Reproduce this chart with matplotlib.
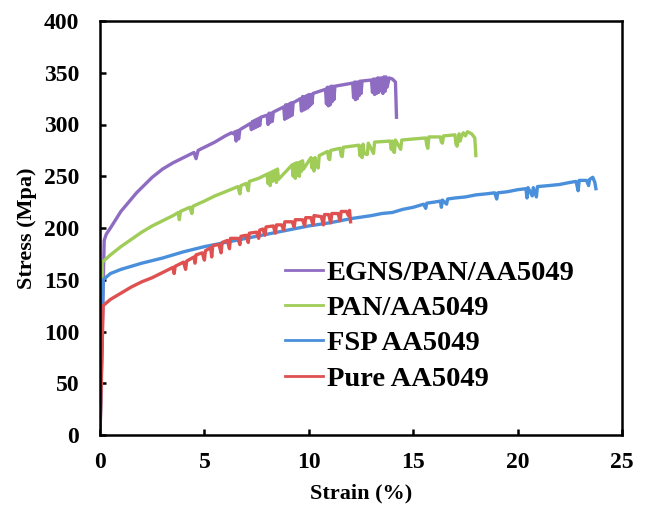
import matplotlib
matplotlib.use("Agg")
import matplotlib.pyplot as plt

# Stress-strain data (strain in %, stress in MPa)
egns_strain = [0, 0.1, 0.2, 0.3, 0.5, 0.75, 1.0, 1.25, 1.5, 1.75, 2.0, 2.25, 2.5, 2.75, 3.0,
               3.25, 3.5, 4.0, 4.5, 4.6, 4.7, 5.0, 5.5,
               6.0, 6.3,
               6.4, 6.46, 6.52, 6.58, 6.64, 6.7,
               7.2, 7.25, 7.3, 7.35, 7.4, 7.45, 7.5, 7.55, 7.6, 7.65, 7.7,
               8.0, 8.05, 8.1, 8.15, 8.2, 8.25, 8.3,
               8.8, 8.845, 8.89, 8.935, 8.98, 9.025, 9.07, 9.115, 9.16, 9.205, 9.25,
               9.6, 9.65, 9.7, 9.75, 9.8, 9.85, 9.9, 9.95, 10.0, 10.05, 10.1, 10.15, 10.2,
               10.8, 10.845, 10.89, 10.935, 10.98, 11.025, 11.07, 11.115, 11.16, 11.205, 11.25,
               12.1, 12.145, 12.19, 12.235, 12.28, 12.325, 12.37, 12.415, 12.46, 12.505, 12.55,
               13.0, 13.05, 13.1, 13.15, 13.2, 13.25, 13.3, 13.35, 13.4, 13.45, 13.5, 13.55,
               13.6, 13.65, 13.7, 13.75, 13.85,
               14.0, 14.15, 14.2]
egns_stress = [0, 95, 188, 194, 200, 208, 216, 222, 228, 234, 239, 244, 249, 253, 257,
               260, 263, 268, 273, 267, 275, 278, 283,
               289, 292,
               291, 293, 284, 294, 286, 295,
               301, 295, 303, 296, 304, 297, 305, 298, 306, 299, 307,
               309, 300, 311, 302, 311, 303, 312,
               317, 305, 319, 306, 319, 307, 320, 308, 321, 309, 321,
               325, 313, 327, 314, 327, 315, 328, 316, 329, 318, 329, 320, 330,
               334, 320, 336, 318, 336, 319, 337, 322, 337, 324, 337,
               340, 326, 341, 324, 341, 325, 341, 328, 342, 330, 342,
               343, 331, 344, 329, 344, 330, 345, 331, 345, 333, 345, 330,
               346, 332, 346, 336, 345,
               344, 341, 307]

pan_strain = [0, 0.06, 0.11, 0.5, 1.0, 1.5, 2.0, 2.5, 3.0, 3.5, 3.75, 3.8, 3.85, 4.3, 4.4, 4.45,
              5.0, 5.5, 6.0, 6.6, 6.7, 6.75, 7.0, 7.1, 7.15, 7.6,
              8.0, 8.05, 8.1, 8.15, 8.2, 8.25, 8.3, 8.35, 8.4, 8.45, 8.5, 8.55,
              9.2, 9.25, 9.3, 9.35, 9.4, 9.45, 9.5, 9.55, 9.6, 9.65, 9.7, 9.75,
              10.1, 10.15, 10.2, 10.25, 10.3, 10.35, 10.45, 10.5,
              10.9, 10.95, 11.0, 11.05, 11.5, 11.55, 11.6, 11.65,
              12.4, 12.45, 12.5, 12.55, 12.6, 12.65, 12.8, 12.85, 13.1, 13.15,
              13.9, 13.95, 14.0, 14.05, 14.1, 14.15, 14.4, 14.45, 15.0,
              15.6, 15.65, 15.7, 15.75, 16.3, 16.35, 16.4, 16.45,
              17.0, 17.05, 17.1, 17.2, 17.25, 17.3, 17.4, 17.5, 17.6, 17.8, 17.95, 18.0]
pan_stress = [0, 85, 167, 174, 182, 189, 196, 202, 207, 212, 215, 208, 216, 220, 214, 221,
              226, 231, 235, 240, 233, 241, 243, 236, 245, 248,
              252, 243, 253, 241, 254, 245, 255, 246, 256, 244, 257, 247,
              261, 250, 262, 248, 263, 251, 263, 250, 264, 255, 265, 257,
              268, 258, 267, 255, 268, 260, 258, 270,
              274, 267, 266, 275, 277, 270, 269, 278,
              280, 270, 279, 268, 281, 272, 271, 282, 272, 283,
              284, 276, 284, 274, 273, 285, 276, 285, 286,
              287, 280, 277, 288, 288, 283, 282, 289,
              290, 281, 279, 291, 284, 288, 292, 289, 293, 291, 287, 270]

fsp_strain = [0, 0.08, 0.15, 0.5, 1.0, 2.0, 3.0, 4.0, 5.0, 6.0, 7.0, 8.0, 9.0, 10.0, 11.0,
              12.0, 13.0, 13.5, 14.0, 14.5, 15.0, 15.5, 15.6, 15.65, 16.0, 16.3, 16.35, 16.4,
              16.6, 16.65, 17.0, 17.5, 18.0, 18.5, 18.9, 19.0, 19.05, 19.5, 20.0, 20.4, 20.45,
              20.5, 20.7, 20.75, 20.9, 20.95, 21.5, 22.0, 22.5, 22.8, 22.9, 22.95, 23.3, 23.4,
              23.45, 23.6, 23.7, 23.75]
fsp_stress = [0, 75, 150, 156, 160, 166, 171, 177, 182, 186, 190, 194, 198, 202, 205,
              209, 212, 214, 215, 218, 220, 223, 219, 224, 225, 226, 220, 227,
              223, 228, 229, 230, 232, 233, 234, 228, 234, 235, 237, 238, 229,
              239, 231, 239, 230, 240, 241, 242, 244, 245, 236, 246, 246, 241,
              247, 249, 244, 238]

pure_strain = [0, 0.08, 0.15, 0.5, 1.0, 1.5, 2.0, 2.5, 3.0, 3.5, 3.55, 3.6, 4.0, 4.1, 4.15,
               4.5, 4.55, 4.6, 4.9, 5.0, 5.05, 5.3, 5.35, 5.4, 5.7, 5.8, 5.85, 6.1, 6.2, 6.25,
               6.6, 6.7, 6.75, 7.0, 7.1, 7.15, 7.5, 7.6, 7.65, 7.8, 7.9, 7.95, 8.3, 8.4, 8.45,
               8.7, 8.8, 8.85, 9.2, 9.3, 9.35, 9.7, 9.8, 9.85, 10.1, 10.2, 10.25, 10.6, 10.7,
               10.75, 10.95, 11.05, 11.1, 11.4, 11.5, 11.55, 11.8, 11.9, 11.95, 12.0]
pure_stress = [0, 65, 125, 131, 137, 143, 148, 152, 157, 162, 156, 163, 167, 160, 168,
               172, 166, 174, 176, 169, 178, 181, 172, 183, 184, 176, 186, 188, 180, 190,
               190, 184, 192, 193, 186, 195, 196, 190, 198, 199, 193, 201, 202, 195, 203,
               203, 198, 206, 206, 201, 208, 208, 202, 210, 210, 203, 212, 211, 203,
               213, 213, 205, 214, 214, 207, 216, 216, 212, 217, 206]

labels = ["EGNS/PAN/AA5049", "PAN/AA5049", "FSP AA5049", "Pure AA5049"]
colors = ["#8E6CC2", "#A0CC58", "#4A8FDB", "#DF5050"]

plt.rcParams["font.family"] = ["Liberation Serif", "DejaVu Serif"]
plt.rcParams["font.weight"] = "bold"

fig = plt.figure(figsize=(6.48, 5.07), dpi=100)
ax = fig.add_axes([100 / 648, 1 - 435 / 507, 522 / 648, 414 / 507])

series = [(egns_strain, egns_stress), (pan_strain, pan_stress),
          (fsp_strain, fsp_stress), (pure_strain, pure_stress)]
handles = []
for (xs, ys), lab, col in zip(series, labels, colors):
    h, = ax.plot(xs, ys, color=col, lw=2.4, label=lab)
    handles.append(h)

ax.set_xlim(0, 25)
ax.set_ylim(0, 400)
ax.set_xticks(range(0, 26, 5))
ax.set_yticks(range(0, 401, 50))
ax.tick_params(direction="in", length=4, width=1.8, labelsize=17)
ax.tick_params(axis="x", pad=12)
ax.tick_params(axis="y", pad=15)
for lab in ax.get_xticklabels() + ax.get_yticklabels():
    lab.set_fontweight("bold")
for sp in ax.spines.values():
    sp.set_linewidth(1.8)

ax.set_xlabel("Strain (%)", fontsize=16, fontweight="bold", labelpad=8)
ax.set_ylabel("Stress (Mpa)", fontsize=16, fontweight="bold", labelpad=5)

leg = ax.legend(handles=handles, loc="upper left", bbox_to_anchor=(0.354, 0.423),
                frameon=False, fontsize=20.5, handlelength=1.35, handletextpad=0.12,
                labelspacing=0.33, borderaxespad=0, borderpad=0)
for t in leg.get_texts():
    t.set_fontweight("bold")
for lh in leg.get_lines():
    lh.set_linewidth(2.0)

fig.savefig("out.png", dpi=100)
